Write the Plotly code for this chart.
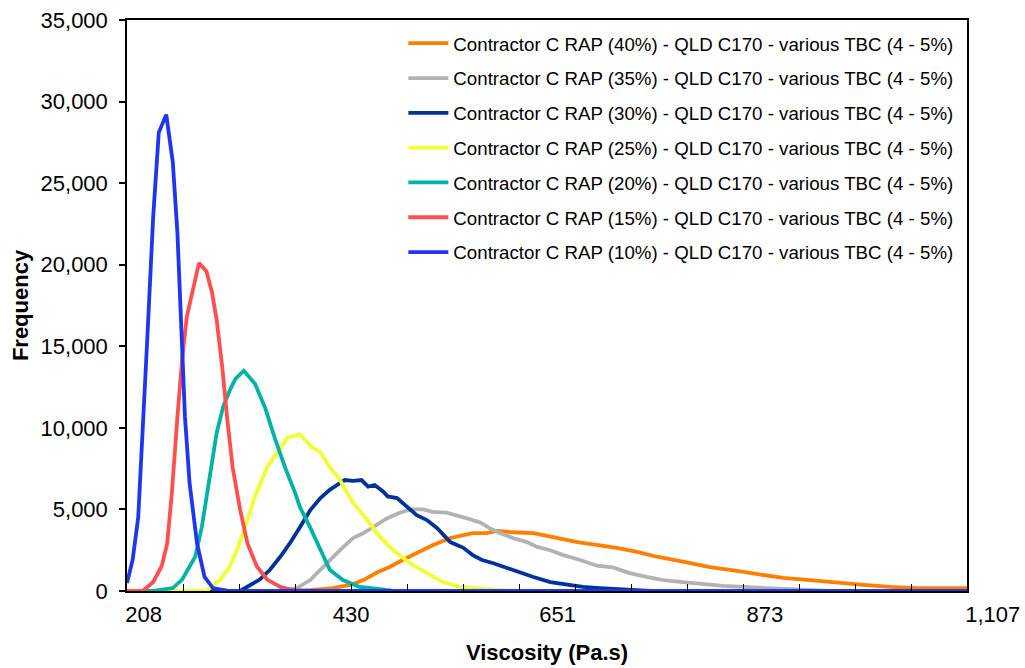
import plotly.graph_objects as go

# Viscosity distributions for the Contractor C RAP blends (QLD C170, TBC 4 - 5%)
labels = [
    "Contractor C RAP (40%) - QLD C170 - various TBC (4 - 5%)",
    "Contractor C RAP (35%) - QLD C170 - various TBC (4 - 5%)",
    "Contractor C RAP (30%) - QLD C170 - various TBC (4 - 5%)",
    "Contractor C RAP (25%) - QLD C170 - various TBC (4 - 5%)",
    "Contractor C RAP (20%) - QLD C170 - various TBC (4 - 5%)",
    "Contractor C RAP (15%) - QLD C170 - various TBC (4 - 5%)",
    "Contractor C RAP (10%) - QLD C170 - various TBC (4 - 5%)",
]

rap40_x = [208, 393, 404, 428, 447, 461, 476, 489, 503, 518, 535, 554, 568, 578, 593, 604, 621, 643,
           664, 690, 714, 732, 754, 775, 803, 832, 861, 882, 910, 939, 968, 996, 1025, 1053, 1078, 1107]
rap40_y = [0, 0, 60, 180, 370, 670, 1150, 1470, 1900, 2330, 2800, 3250, 3430, 3550, 3550, 3680, 3600, 3550,
           3300, 3000, 2800, 2650, 2400, 2100, 1800, 1470, 1230, 1040, 800, 670, 490, 370, 250, 180, 180, 180]

rap35_x = [208, 372, 390, 404, 415, 425, 436, 450, 461, 471, 486, 500, 511, 525, 535, 550, 561, 572, 586,
           596, 607, 621, 636, 647, 661, 675, 693, 711, 728, 746, 764, 782, 803, 824, 846, 867, 893, 910,
           931, 960, 1107]
rap35_y = [0, 0, 180, 670, 1300, 1900, 2500, 3250, 3550, 3900, 4450, 4800, 5000, 5000, 4850, 4800, 4650, 4450, 4200,
           3850, 3550, 3250, 3000, 2700, 2500, 2200, 1900, 1550, 1450, 1100, 860, 670, 550, 430, 310, 250, 180, 120,
           60, 0, 0]

rap30_x = [208, 329, 350, 361, 372, 382, 393, 404, 415, 425, 433, 441, 450, 459, 466, 473, 482, 487, 497,
           508, 518, 529, 540, 554, 568, 578, 588, 600, 615, 629, 643, 661, 679, 696, 714, 732, 749, 768, 1107]
rap30_y = [0, 0, 700, 1300, 2100, 2900, 3900, 4950, 5700, 6200, 6500, 6800, 6750, 6800, 6400, 6500, 6100, 5800, 5700,
           5150, 4650, 4350, 3850, 3000, 2650, 2200, 1900, 1700, 1400, 1100, 860, 550, 370, 250, 180, 120, 60, 0, 0]

rap25_x = [208, 293, 297, 308, 318, 327, 336, 345, 358, 369, 380, 393, 406, 415, 425, 436, 450, 465, 479,
           493, 511, 529, 546, 564, 583, 607, 618, 1107]
rap25_y = [0, 0, 180, 700, 1500, 2700, 4200, 5800, 7600, 8500, 9400, 9600, 8800, 8500, 7600, 6800, 5400, 4350, 3300,
           2500, 1700, 1100, 550, 250, 180, 60, 0, 0]

rap20_x = [208, 236, 257, 267, 273, 281, 288, 295, 304, 311, 318, 324, 333, 345, 356, 366, 377, 388, 393,
           404, 415, 425, 439, 457, 479, 493, 1107]
rap20_y = [0, 0, 180, 700, 1300, 2100, 3900, 6600, 9700, 11300, 12300, 13000, 13500, 12700, 11200, 9400, 7600, 6000, 5150,
           3900, 2500, 1300, 670, 250, 120, 0, 0]

rap15_x = [208, 225, 236, 245, 251, 256, 262, 267, 272, 279, 285, 293, 299, 304, 310, 315, 321, 329, 337,
           347, 358, 372, 386, 404, 1107]
rap15_y = [0, 0, 550, 1500, 2900, 6000, 10700, 14200, 16800, 18600, 20100, 19600, 18300, 16600, 13700, 10700, 7600, 5000, 2900,
           1500, 700, 250, 60, 0, 0]

rap10_x = [208, 214, 220, 225, 230, 236, 242, 250, 257, 262, 266, 270, 275, 283, 291, 300, 318, 1107]
rap10_y = [490, 1900, 4500, 9700, 15800, 22900, 28100, 29200, 26300, 21900, 15800, 10700, 6600, 2900, 860, 180, 0, 0]

series_x = [rap40_x, rap35_x, rap30_x, rap25_x, rap20_x, rap15_x, rap10_x]
series_y = [rap40_y, rap35_y, rap30_y, rap25_y, rap20_y, rap15_y, rap10_y]
colors = ["#FF7F00", "#B2B2B2", "#003399", "#F0FF33", "#00B3A6", "#FF4F4F", "#1F35F0"]

x_tickvals = [208, 430, 651, 873, 1107]
x_ticktext = ["208", "430", "651", "873", "1,107"]

FONT = "Liberation Sans, Arial, sans-serif"

fig = go.Figure()
for name, xs, ys, c in zip(labels, series_x, series_y, colors):
    fig.add_trace(go.Scatter(
        x=xs, y=ys, mode="lines", name=name, legendgroup=name,
        line=dict(color=c, width=3.8),
    ))

fig.update_layout(
    width=1025, height=668,
    margin=dict(l=127, r=58, t=20, b=77),
    paper_bgcolor="white", plot_bgcolor="white",
    font=dict(family=FONT, color="black", size=22),
    showlegend=True,
    legend=dict(
        x=0.329, xanchor="left", y=0.992, yanchor="top",
        font=dict(family=FONT, size=18.7, color="black"),
        bgcolor="rgba(0,0,0,0)", borderwidth=0,
        tracegroupgap=7.5, itemwidth=40,
    ),
)

fig.update_xaxes(
    range=[208, 1107], automargin=False,
    tickmode="array", tickvals=x_tickvals, ticktext=x_ticktext,
    ticks="inside", ticklen=0, tickwidth=1, tickcolor="black",
    ticklabelposition="outside right",
    ticklabelstandoff=3, ticklabelshift=-3,
    tickfont=dict(size=22),
    minor=dict(ticks="inside", tick0=208, dtick=60, ticklen=7, tickcolor="black", tickwidth=1.2),
    showline=True, linecolor="black", linewidth=1.5, mirror=True,
    showgrid=False, zeroline=False, layer="above traces",
    title=dict(text="<b>Viscosity (Pa.s)</b>", font=dict(size=22), standoff=18),
)

fig.update_yaxes(
    range=[0, 35000], dtick=5000, tickformat=",", automargin=False,
    ticks="outside", ticklen=6, tickcolor="black", tickwidth=1.5,
    ticklabelstandoff=7,
    tickfont=dict(size=22),
    showline=True, linecolor="black", linewidth=1.5, mirror=True,
    showgrid=False, zeroline=False,
    title=dict(text="<b>Frequency</b>", font=dict(size=22), standoff=6),
)

fig.write_html("out.html")
